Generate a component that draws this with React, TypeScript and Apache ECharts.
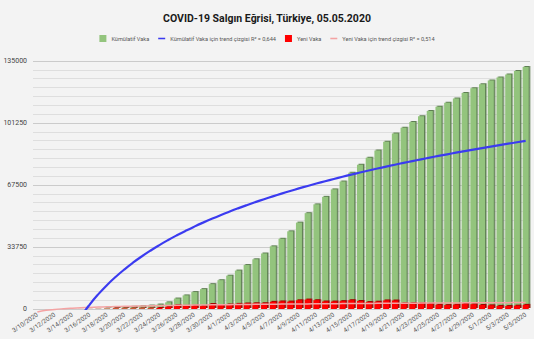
import React, { useEffect, useRef } from "react";
import * as echarts from "echarts";

const dates: string[] = [
  "3/10/2020","3/11/2020","3/12/2020","3/13/2020","3/14/2020","3/15/2020","3/16/2020","3/17/2020","3/18/2020","3/19/2020",
  "3/20/2020","3/21/2020","3/22/2020","3/23/2020","3/24/2020","3/25/2020","3/26/2020","3/27/2020","3/28/2020","3/29/2020",
  "3/30/2020","3/31/2020","4/1/2020","4/2/2020","4/3/2020","4/4/2020","4/5/2020","4/6/2020","4/7/2020","4/8/2020",
  "4/9/2020","4/10/2020","4/11/2020","4/12/2020","4/13/2020","4/14/2020","4/15/2020","4/16/2020","4/17/2020","4/18/2020",
  "4/19/2020","4/20/2020","4/21/2020","4/22/2020","4/23/2020","4/24/2020","4/25/2020","4/26/2020","4/27/2020","4/28/2020",
  "4/29/2020","4/30/2020","5/1/2020","5/2/2020","5/3/2020","5/4/2020","5/5/2020"
];

const cumulativeCases: number[] = [
  1, 1, 5, 6, 18, 47, 98, 191, 359, 670,
  947, 1236, 1529, 1872, 2433, 3629, 5698, 7402, 9217, 10827,
  13531, 15679, 18135, 20921, 23934, 27069, 30217, 34109, 38226, 42282,
  47029, 52167, 56956, 61049, 65111, 69392, 74193, 78546, 82329, 86306,
  90980, 95591, 98674, 101790, 104912, 107773, 110130, 112261, 114653, 117589,
  120204, 122392, 124375, 126045, 127659, 129491, 131744
];

const newCases: number[] = [
  1, 0, 4, 1, 12, 29, 51, 93, 168, 311,
  277, 289, 293, 343, 561, 1196, 2069, 1704, 1815, 1610,
  2704, 2148, 2456, 2786, 3013, 3135, 3148, 3892, 4117, 4056,
  4747, 5138, 4789, 4093, 4062, 4281, 4801, 4353, 3783, 3977,
  4674, 4611, 3083, 3116, 3122, 2861, 2357, 2131, 2392, 2936,
  2615, 2188, 1983, 1670, 1614, 1832, 2253
];

const yTicks: number[] = [0, 33750, 67500, 101250, 135000];

const nameCum = "Kümülatif Vaka";
const nameCumTrend = "Kümülatif Vaka için trend çizgisi R² = 0,644";
const nameNew = "Yeni Vaka";
const nameNewTrend = "Yeni Vaka için trend çizgisi R² = 0,514";

// Least-squares logarithmic trend line (y = a·ln(x) + b), x = row number (3/10 = 1),
// as the spreadsheet computes it
function logTrend(values: number[]): number[] {
  const n = values.length;
  let sx = 0, sy = 0, sxx = 0, sxy = 0;
  values.forEach((y, i) => {
    const lx = Math.log(i + 1);
    sx += lx; sy += y; sxx += lx * lx; sxy += lx * y;
  });
  const a = (n * sxy - sx * sy) / (n * sxx - sx * sx);
  const b = (sy - a * sx) / n;
  return values.map((_, i) => a * Math.log(i + 1) + b);
}

export default function App() {
  const ref = useRef<HTMLDivElement>(null);
  useEffect(() => {
    if (!ref.current) return;
    const chart = echarts.init(ref.current, undefined, { renderer: "svg" });
    const cumTrend = logTrend(cumulativeCases);
    const newTrend = logTrend(newCases);
    chart.setOption({
      animation: false,
      backgroundColor: "#f3f3f3",
      textStyle: { fontFamily: "Roboto" },
      title: {
        text: "COVID-19 Salgın Eğrisi, Türkiye, 05.05.2020",
        left: "center",
        top: 8,
        textStyle: { fontSize: 10.5, fontWeight: "bold", color: "#1a1a1a", fontFamily: "Roboto" },
      },
      legend: {
        top: 30,
        left: "center",
        itemGap: 9,
        itemWidth: 7,
        itemHeight: 7,
        textStyle: { fontSize: 5.6, color: "#555", fontFamily: "Roboto" },
        data: [
          { name: nameCum, icon: "rect" },
          { name: nameCumTrend, icon: "path://M0,3h10v2.2h-10z", itemStyle: { color: "#3b3bf0" } },
          { name: nameNew, icon: "rect" },
          { name: nameNewTrend, icon: "path://M0,3h10v2.2h-10z", itemStyle: { color: "#f4a3a3" } },
        ],
      },
      grid: { left: 33, right: 4, top: 61, bottom: 30 },
      xAxis: {
        type: "category",
        data: dates,
        axisLine: { show: false },
        axisTick: { show: false },
        axisLabel: { interval: 1, rotate: 35, fontSize: 6.3, color: "#555", margin: 5, fontFamily: "Roboto" },
      },
      yAxis: {
        type: "value",
        min: yTicks[0],
        max: yTicks[yTicks.length - 1],
        interval: yTicks[1] - yTicks[0],
        axisLabel: { fontSize: 7, color: "#444", margin: 6, fontFamily: "Roboto", formatter: (v: number) => String(v) },
        axisLine: { show: false },
        axisTick: { show: false },
        splitLine: { lineStyle: { color: "#cbcbcb", width: 1.2 } },
        minorTick: { show: false, splitNumber: 7 },
        minorSplitLine: { show: true, lineStyle: { color: "#dedede", width: 1 } },
      },
      series: [
        {
          name: nameCum,
          type: "bar",
          data: cumulativeCases,
          barWidth: 6,
          itemStyle: {
            color: "#93c47d",
            shadowColor: "#5f7f52",
            shadowBlur: 0,
            shadowOffsetX: 1.5,
            shadowOffsetY: -1,
          },
          z: 2,
        },
        {
          name: nameNew,
          type: "bar",
          data: newCases,
          barWidth: 6,
          barGap: "-100%",
          itemStyle: {
            color: "#ff0000",
            shadowColor: "#a40000",
            shadowBlur: 0,
            shadowOffsetX: 1.5,
            shadowOffsetY: -1,
          },
          z: 3,
        },
        {
          name: nameNewTrend,
          type: "line",
          data: newTrend,
          symbol: "none",
          smooth: true,
          clip: false,
          lineStyle: { color: "#f4a3a3", width: 1.5 },
          itemStyle: { color: "#f4a3a3" },
          z: 4,
        },
        {
          name: nameCumTrend,
          type: "line",
          data: cumTrend,
          symbol: "none",
          smooth: true,
          lineStyle: { color: "#3b3bf0", width: 2.2 },
          itemStyle: { color: "#3b3bf0" },
          z: 5,
        },
      ],
    });
    return () => chart.dispose();
  }, []);
  return (
    <div
      ref={ref}
      style={{ position: "fixed", left: 0, top: 0, width: 534, height: 339 }}
    />
  );
}
